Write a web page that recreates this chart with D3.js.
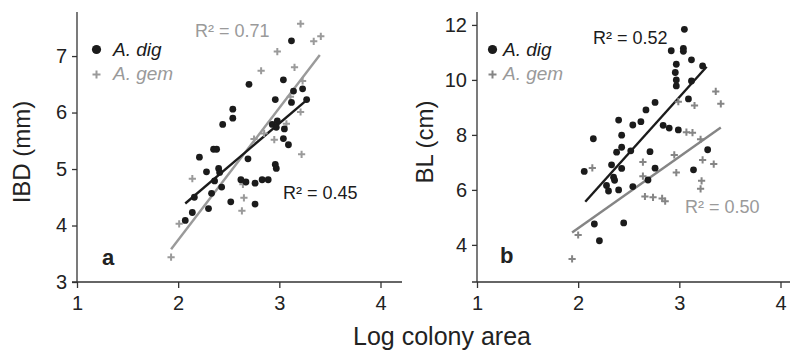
<!DOCTYPE html>
<html>
<head>
<meta charset="utf-8">
<style>
  body { margin: 0; background: #fff; }
  svg text { font-family: "Liberation Sans", Arial, Helvetica, sans-serif; }
  .axis line { stroke: #333; stroke-width: 1.3; }
  .axis text { font-size: 20px; fill: #222; }
</style>
</head>
<body>
<svg id="chart" width="790" height="353"></svg>
<script src="https://cdnjs.cloudflare.com/ajax/libs/d3/7.8.5/d3.min.js"></script>
<script>
// ---- data ----
// panel a : inter-branch distance (mm) vs log colony area
var ibdDig = [
  [3.12,7.27],[2.70,6.50],[3.04,6.58],[3.14,6.38],[3.23,6.42],[2.96,6.23],[3.12,6.18],[3.27,6.23],
  [2.54,6.06],[2.54,5.90],[2.44,5.79],[2.93,5.79],[2.98,5.85],[2.97,5.74],[3.05,5.71],[3.04,5.54],
  [3.09,5.43],[2.35,5.35],[2.38,5.35],[2.21,5.21],[2.69,5.18],[2.96,5.08],[2.97,5.01],[2.40,5.01],
  [2.41,4.94],[2.28,4.95],[2.36,4.79],[2.43,4.68],[2.62,4.81],[2.67,4.77],[2.76,4.75],[2.83,4.81],
  [2.89,4.81],[2.16,4.50],[2.33,4.57],[2.14,4.23],[2.07,4.09],[2.30,4.30],[2.52,4.42],[2.76,4.38]
];
var ibdGem = [
  [3.21,7.57],[3.34,7.26],[3.41,7.35],[2.98,7.08],[2.82,6.74],[3.15,6.80],[3.23,6.56],[3.11,6.28],
  [3.21,6.01],[3.07,5.80],[2.95,5.52],[2.75,5.53],[2.85,5.63],[3.22,5.26],[2.14,4.83],[2.64,4.73],
  [2.65,4.49],[2.63,4.26],[2.01,4.03],[1.93,3.44]
];
var ibdFitDig = [[2.07,4.39],[3.27,6.22]];
var ibdFitGem = [[1.93,3.58],[3.40,7.02]];

// panel b : branch length (cm) vs log colony area
var blDig = [
  [3.05,11.84],[2.92,11.06],[3.04,11.15],[3.04,11.04],[3.12,10.73],[3.23,10.51],[2.97,10.57],[2.96,10.27],
  [2.97,10.00],[2.97,9.78],[3.12,9.96],[3.09,9.31],[2.76,9.18],[2.67,8.91],[2.40,8.54],[2.54,8.36],
  [2.62,8.48],[2.15,7.86],[2.43,7.99],[2.84,8.35],[2.90,8.25],[2.99,8.18],[2.43,7.55],[2.38,7.37],
  [2.52,7.42],[2.71,7.39],[3.28,7.46],[2.33,6.91],[2.43,6.78],[2.06,6.67],[2.35,6.46],[2.36,6.35],
  [2.28,6.16],[2.30,5.96],[2.40,6.00],[2.54,6.12],[2.76,6.79],[2.69,6.36],[3.14,6.73],[2.16,4.76],
  [2.45,4.80],[2.21,4.15]
];
var blGem = [
  [3.36,9.58],[3.41,9.13],[2.99,9.21],[3.15,9.07],[3.07,8.10],[3.13,8.08],[3.21,7.84],[2.95,7.27],
  [3.23,7.09],[3.34,6.94],[2.64,7.01],[2.64,6.50],[2.97,6.63],[3.22,6.33],[3.21,6.04],[2.66,5.76],
  [2.74,5.73],[2.83,5.69],[2.86,5.59],[2.14,6.80],[2.00,4.36],[1.94,3.49]
];
var blFitDig = [[2.07,5.57],[3.27,10.48]];
var blFitGem = [[1.94,4.45],[3.41,8.27]];

var xTicks = [1, 2, 3, 4];
var ibdTicks = [3, 4, 5, 6, 7];
var blTicks = [4, 6, 8, 10, 12];
var speciesNames = ["A. dig", "A. gem"];
var r2Labels = ["R\u00b2 = 0.71", "R\u00b2 = 0.45", "R\u00b2 = 0.52", "R\u00b2 = 0.50"];

var svg = d3.select("#chart");
var black = "#1b1b1b";

function drawPanel(p) {
  var x = d3.scaleLinear().domain([1, 4]).range([p.left, p.left + 303.5]);
  var y = d3.scaleLinear().domain(p.yDomain).range([282, 12]);
  var g = svg.append("g");

  // y axis
  var ya = g.append("g").attr("class", "axis")
    .attr("transform", "translate(" + p.left + ",0)")
    .call(d3.axisLeft(y).tickValues(p.yTicks).tickFormat(d3.format("d"))
      .tickSize(5).tickSizeOuter(0).tickPadding(5));
  ya.select(".domain").remove();
  ya.append("line").attr("x1", 0).attr("x2", 0).attr("y1", 282).attr("y2", 12);

  // x axis
  var xa = g.append("g").attr("class", "axis")
    .attr("transform", "translate(0,282)")
    .call(d3.axisBottom(x).tickValues(xTicks).tickFormat(d3.format("d"))
      .tickSize(6).tickSizeOuter(0).tickPadding(8));
  xa.select(".domain").remove();
  xa.append("line").attr("x1", p.left - 5).attr("x2", p.xEnd).attr("y1", 0).attr("y2", 0);

  // axis title
  g.append("text")
    .attr("transform", "translate(" + p.titleX + "," + p.titleY + ") rotate(-90)")
    .attr("text-anchor", "middle")
    .style("font-size", "24px").style("fill", "#222")
    .text(p.title);

  // fit lines
  var line = d3.line().x(function(d) { return x(d[0]); }).y(function(d) { return y(d[1]); });
  g.append("path").datum(p.fitGem).attr("d", line)
    .attr("fill", "none").attr("stroke", p.gemColor).attr("stroke-width", 2.4);
  g.append("path").datum(p.fitDig).attr("d", line)
    .attr("fill", "none").attr("stroke", black).attr("stroke-width", 2.4);

  // points
  g.selectAll(".gem").data(p.gem).enter().append("path")
    .attr("class", "gem")
    .attr("transform", function(d) { return "translate(" + x(d[0]) + "," + y(d[1]) + ")"; })
    .attr("d", "M-3.6,0H3.6M0,-3.6V3.6")
    .attr("stroke", p.gemColor).attr("stroke-width", 2);
  g.selectAll(".dig").data(p.dig).enter().append("circle")
    .attr("class", "dig")
    .attr("cx", function(d) { return x(d[0]); })
    .attr("cy", function(d) { return y(d[1]); })
    .attr("r", 3.4).attr("fill", black);

  // legend
  g.append("circle").attr("cx", p.legX).attr("cy", 49.5).attr("r", 4.6).attr("fill", black);
  g.append("path").attr("transform", "translate(" + p.legX + ",74.5)")
    .attr("d", "M-4,0H4M0,-4V4").attr("stroke", p.gemColor).attr("stroke-width", 2);
  g.append("text").attr("x", p.legTextX).attr("y", 56).style("font-size", "19px")
    .style("font-style", "italic").style("fill", black).text(speciesNames[0]);
  g.append("text").attr("x", p.legTextX).attr("y", 80).style("font-size", "19px")
    .style("font-style", "italic").style("fill", "#9a9a9a").text(speciesNames[1]);

  // R2 labels
  p.r2.forEach(function(r) {
    g.append("text").attr("x", r.x).attr("y", r.y).style("font-size", "18px")
      .style("fill", r.color).text(r.text);
  });

  // panel letter
  g.append("text").attr("x", p.letterX).attr("y", p.letterY)
    .style("font-size", "22px").style("font-weight", "bold").style("fill", "#222")
    .text(p.letter);
}

drawPanel({
  left: 77, xEnd: 402, yDomain: [3, 7.78], yTicks: ibdTicks,
  title: "IBD (mm)", titleX: 30, titleY: 152,
  dig: ibdDig, gem: ibdGem, fitDig: ibdFitDig, fitGem: ibdFitGem, gemColor: "#9a9a9a",
  legX: 96.5, legTextX: 113,
  r2: [{text: r2Labels[0], x: 195, y: 37, color: "#9a9a9a"},
       {text: r2Labels[1], x: 283, y: 199, color: black}],
  letter: "a", letterX: 102, letterY: 265
});

drawPanel({
  left: 477, xEnd: 790, yDomain: [2.65, 12.47], yTicks: blTicks,
  title: "BL (cm)", titleX: 433, titleY: 142,
  dig: blDig, gem: blGem, fitDig: blFitDig, fitGem: blFitGem, gemColor: "#858585",
  legX: 492.5, legTextX: 503,
  r2: [{text: r2Labels[2], x: 593, y: 44, color: black},
       {text: r2Labels[3], x: 685, y: 213, color: "#9a9a9a"}],
  letter: "b", letterX: 500, letterY: 263
});

// shared x title
svg.append("text").attr("x", 442).attr("y", 345).attr("text-anchor", "middle")
  .style("font-size", "25px").style("fill", "#222").text("Log colony area");
</script>
</body>
</html>
